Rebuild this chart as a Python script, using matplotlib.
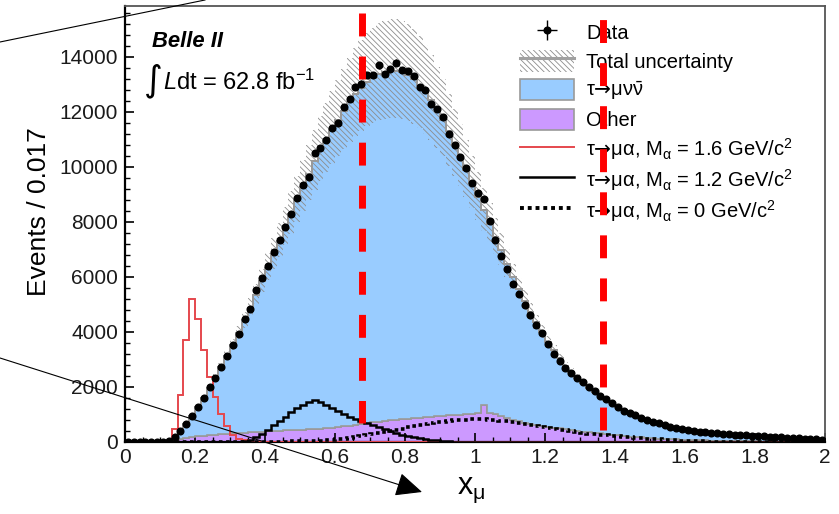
import numpy as np
import matplotlib
matplotlib.use("Agg")
import matplotlib.pyplot as plt
from matplotlib.patches import Patch, FancyArrowPatch, Rectangle
from matplotlib.lines import Line2D
from matplotlib.legend_handler import HandlerPatch
from matplotlib.ticker import MultipleLocator, FixedLocator, FixedFormatter

plt.rcParams['font.family'] = ['Liberation Sans', 'DejaVu Sans']
plt.rcParams['mathtext.fontset'] = 'custom'
plt.rcParams['mathtext.rm'] = 'Liberation Sans'
plt.rcParams['mathtext.it'] = 'Liberation Sans:italic'
plt.rcParams['mathtext.bf'] = 'Liberation Sans:bold'
plt.rcParams['mathtext.sf'] = 'DejaVu Sans'
plt.rcParams['hatch.linewidth'] = 0.6

# ---------------- data (120 bins from 0 to 2) ----------------
n_bins = 120
x_range = (0.0, 2.0)

data = [0, 0, 0, 0, 0, 0, 0, 20, 190, 410,
        640, 945, 1280, 1600, 1990, 2320, 2720, 3120, 3530, 3910,
        4460, 4820, 5530, 5960, 6410, 6920, 7330, 7810, 8290, 8880,
        9360, 9650, 10520, 10690, 10990, 11430, 11610, 12190, 12470, 12900,
        13030, 13340, 13340, 13690, 13380, 13550, 13790, 13520, 13480, 13310,
        12900, 12800, 12290, 12100, 11810, 11200, 10800, 10370, 9950, 9430,
        9040, 8820, 8050, 7350, 6770, 6290, 5760, 5370, 4980, 4600,
        4270, 3950, 3560, 3200, 2950, 2700, 2520, 2340, 2170, 2010,
        1850, 1670, 1550, 1410, 1280, 1130, 1065, 980, 885, 800,
        725, 680, 620, 560, 505, 465, 430, 405, 380, 355,
        335, 315, 300, 285, 270, 258, 245, 232, 218, 205,
        193, 180, 168, 155, 143, 130, 118, 105, 95, 85]

mc_total = [0, 0, 0, 0, 0, 0, 0, 20, 200, 420,
            660, 950, 1270, 1610, 1970, 2340, 2730, 3130, 3540, 3970,
            4420, 4880, 5360, 5850, 6340, 6830, 7320, 7810, 8300, 8790,
            9270, 9740, 10200, 10620, 11000, 11360, 11700, 12030, 12350, 12640,
            12880, 13080, 13240, 13360, 13440, 13480, 13480, 13440, 13350, 13200,
            12990, 12730, 12430, 12090, 11710, 11290, 10840, 10370, 9890, 9400,
            8910, 8420, 7940, 7460, 6990, 6480, 6000, 5560, 5140, 4740,
            4350, 3990, 3650, 3330, 3040, 2780, 2550, 2340, 2150, 1980,
            1820, 1670, 1530, 1400, 1280, 1165, 1060, 960, 870, 790,
            720, 660, 605, 555, 510, 470, 435, 405, 378, 353,
            332, 313, 296, 280, 266, 253, 240, 228, 216, 204,
            192, 180, 168, 156, 144, 132, 120, 108, 96, 85]

other = [0, 0, 0, 0, 0, 0, 0, 0, 40, 100,
         140, 175, 205, 230, 250, 268, 285, 300, 315, 330,
         343, 355, 367, 378, 389, 400, 411, 422, 432, 443,
         453, 463, 475, 487, 500, 515, 540, 565, 590, 620,
         650, 680, 710, 740, 765, 790, 810, 830, 850, 870,
         890, 905, 920, 935, 950, 965, 980, 995, 1010, 1025,
         1040, 1340, 1060, 1000, 930, 860, 800, 750, 700, 665,
         630, 595, 560, 525, 495, 465, 435, 405, 380, 355,
         330, 310, 290, 270, 240, 215, 195, 180, 165, 150,
         138, 127, 116, 106, 97, 88, 80, 72, 65, 58,
         52, 47, 42, 38, 34, 30, 27, 24, 21, 18,
         16, 14, 12, 10, 9, 8, 7, 6, 5, 4]

sig_m16 = [0, 0, 0, 0, 0, 0, 0, 30, 480, 1710,
           3710, 5200, 4460, 3350, 2380, 1650, 1020, 590, 255, 120,
           60, 30, 15] + [0] * 97

sig_m12 = [0] * 19 + [5,
           20, 80, 180, 300, 440, 600, 760, 920, 1080, 1220,
           1340, 1440, 1510, 1440, 1330, 1220, 1110, 1010, 920, 840,
           760, 690, 610, 530, 460, 390, 325, 265, 215, 170,
           135, 105, 80, 60, 42, 28, 16, 8, 3, 0] + [0] * 60

sig_m0 = [0] * 24 + [5, 8, 12, 16, 20, 25,
          30, 36, 44, 54, 66, 80, 95, 115, 140, 172,
          210, 250, 290, 330, 370, 410, 450, 490, 530, 570,
          610, 645, 680, 710, 740, 765, 785, 800, 812, 820,
          822, 818, 808, 795, 775, 752, 725, 695, 660, 625,
          590, 555, 520, 485, 452, 420, 390, 360, 332, 306,
          282, 260, 240, 220, 200, 182, 165, 150, 135, 121,
          108, 96, 84, 73, 62, 52, 43, 35, 28, 22,
          17, 12, 8, 5, 3] + [0] * 15

# relative systematic uncertainty: constant part + part growing with the yield
unc_rel_const = 0.03
unc_rel_slope = 0.11 / 13500.0
unc_down_scale = 0.9

cuts = [0.678, 1.365]

xtick_vals = [0, 0.2, 0.4, 0.6, 0.8, 1.0, 1.2, 1.4, 1.6, 1.8, 2.0]
xtick_labels = ["0", "0.2", "0.4", "0.6", "0.8", "1", "1.2", "1.4", "1.6", "1.8", "2"]
ytick_vals = [0, 2000, 4000, 6000, 8000, 10000, 12000, 14000]
ytick_labels = ["0", "2000", "4000", "6000", "8000", "10000", "12000", "14000"]

# ---------------- figure ----------------
edges = np.linspace(x_range[0], x_range[1], n_bins + 1)
centers = 0.5 * (edges[:-1] + edges[1:])
halfw = 0.5 * np.diff(edges)
data_a = np.array(data, float)
mc_a = np.array(mc_total, float)
oth_a = np.array(other, float)
rel = unc_rel_const + unc_rel_slope * mc_a
band_hi = mc_a * (1 + rel)
band_lo = mc_a * (1 - unc_down_scale * rel)

BLUE = '#99ccff'
PURPLE = '#cc99ff'
EDGE = '#9a9a9a'
RED = '#e5484d'
HATCH = '\\\\\\\\\\\\'
HATCH_COL = '#8c8c8c'

fig = plt.figure(figsize=(8.39, 5.14), dpi=100)
ax = fig.add_axes([0.14899, 0.14008, 0.83433, 0.84825])

ax.stairs(oth_a, edges, baseline=0, fill=True, facecolor=PURPLE,
          edgecolor=EDGE, linewidth=1.2, zorder=1)
ax.stairs(mc_a, edges, baseline=oth_a, fill=True, facecolor=BLUE,
          edgecolor=EDGE, linewidth=1.2, zorder=2)
ax.stairs(band_hi, edges, baseline=band_lo, fill=True,
          facecolor='none', edgecolor=HATCH_COL, hatch=HATCH, linewidth=0, zorder=3)
ax.stairs(mc_a, edges, baseline=None, color=EDGE, linewidth=1.4, zorder=3)

ax.stairs(np.array(sig_m16, float), edges, color=RED, linewidth=1.4, zorder=4)
ax.stairs(np.array(sig_m12, float), edges, color='black', linewidth=1.8, zorder=4)
ax.stairs(np.array(sig_m0, float), edges, color='black', linewidth=2.6,
          linestyle=(0, (1.0, 1.0)), zorder=4)

h_data = ax.errorbar(centers, data_a, xerr=halfw, yerr=np.sqrt(data_a), fmt='o',
                     color='black', markersize=4.8, elinewidth=1.0, capsize=0, zorder=5)

ax.set_xlim(*x_range)
ax.set_ylim(0, 15850)

ax.xaxis.set_major_locator(FixedLocator(xtick_vals))
ax.xaxis.set_major_formatter(FixedFormatter(xtick_labels))
ax.xaxis.set_minor_locator(MultipleLocator(0.05))
ax.yaxis.set_major_locator(FixedLocator(ytick_vals))
ax.yaxis.set_major_formatter(FixedFormatter(ytick_labels))
ax.yaxis.set_minor_locator(MultipleLocator(400))

ax.tick_params(which='both', direction='in', top=False, right=False, colors='black',
               labelsize=15, labelcolor='#1a1a1a')
ax.tick_params(which='major', length=6.5, width=1.2)
ax.tick_params(which='minor', length=3.3, width=1.0)
ax.tick_params(axis='y', pad=5)
ax.tick_params(axis='x', pad=4)

for s in ['left', 'bottom']:
    ax.spines[s].set_color('black')
    ax.spines[s].set_linewidth(1.6)
for s in ['top', 'right']:
    ax.spines[s].set_color('#555555')
    ax.spines[s].set_linewidth(1.3)

ax.set_xlabel(r"x$_\mathrm{\mu}$", fontsize=22)
ax.xaxis.set_label_coords(0.495, -0.076)
ax.set_ylabel("Events / 0.017", fontsize=19)
ax.yaxis.set_label_coords(-0.106, 0.5275)

ax.text(0.0386, 0.906, "Belle II", transform=ax.transAxes, fontsize=15.8,
        fontweight='bold', fontstyle='italic', va='baseline', ha='left')
ax.text(0.041, 0.828, "\u222b", transform=ax.transAxes, fontsize=26,
        family='DejaVu Sans', va='center', ha='center')
ax.text(0.0543, 0.807, r"$\mathit{L}$dt = 62.8 fb$^\mathrm{-1}$", transform=ax.transAxes,
        fontsize=17, va='baseline', ha='left')


# legend
def small_rect(legend, orig_handle, xdescent, ydescent, width, height, fontsize):
    h = 1.05 * fontsize
    return Rectangle((-xdescent, -ydescent + (height - h) / 2.0), width, h)


h_unc = (Patch(facecolor='white', edgecolor=HATCH_COL, hatch=HATCH, linewidth=0),
         Line2D([], [], color='#a0a0a0', linewidth=2.2))
h_tau = Patch(facecolor=BLUE, edgecolor=EDGE, linewidth=1.2)
h_oth = Patch(facecolor=PURPLE, edgecolor=EDGE, linewidth=1.2)
h16 = Line2D([], [], color=RED, linewidth=1.4)
h12 = Line2D([], [], color='black', linewidth=1.8)
h0 = Line2D([], [], color='black', linewidth=2.8, linestyle=(0, (1.0, 1.0)))
ARW = r"$\mathsf{→}$"
labels = ["Data", "Total uncertainty", "τ" + ARW + r"μν$\bar{\mathrm{ν}}$", "Other",
          "τ" + ARW + r"μα, M$_\mathrm{α}$ = 1.6 GeV/c$^\mathrm{2}$",
          "τ" + ARW + r"μα, M$_\mathrm{α}$ = 1.2 GeV/c$^\mathrm{2}$",
          "τ" + ARW + r"μα, M$_\mathrm{α}$ = 0 GeV/c$^\mathrm{2}$"]
leg = ax.legend([h_data, h_unc, h_tau, h_oth, h16, h12, h0], labels,
                loc='upper left', bbox_to_anchor=(520 / 839, 1 - 20.5 / 514),
                bbox_transform=fig.transFigure, frameon=False, fontsize=14.5,
                handlelength=2.7, handleheight=1.43, handletextpad=0.6,
                labelspacing=0.25, borderpad=0, borderaxespad=0,
                handler_map={Patch: HandlerPatch(patch_func=small_rect)})
leg.set_zorder(6)

# cut lines (red dashed)
xt = ax.get_xaxis_transform()
ax.plot([cuts[0], cuts[0]], [0.9846, 0.0436], transform=xt, color='#ff0000',
        linewidth=5, linestyle=(0, (3.3, 2.9)), clip_on=False, zorder=10)
ax.plot([cuts[1], cuts[1]], [0.0275, 1.03], transform=xt, color='#ff0000',
        linewidth=5, linestyle=(0, (3.3, 2.9)), clip_on=False, zorder=10)

# annotation lines drawn on the figure
fig.add_artist(Line2D([0.0, 0.2443], [0.9183, 1.0], transform=fig.transFigure,
                      color='black', linewidth=0.8, zorder=20))
arr = FancyArrowPatch((0.0, 0.3035), (0.503, 0.0428), transform=fig.transFigure,
                      arrowstyle='-|>,head_length=1.65,head_width=0.75',
                      mutation_scale=10, color='black', linewidth=0.8,
                      shrinkA=0, shrinkB=0, zorder=20)
fig.add_artist(arr)

fig.savefig('out.png', dpi=100)
